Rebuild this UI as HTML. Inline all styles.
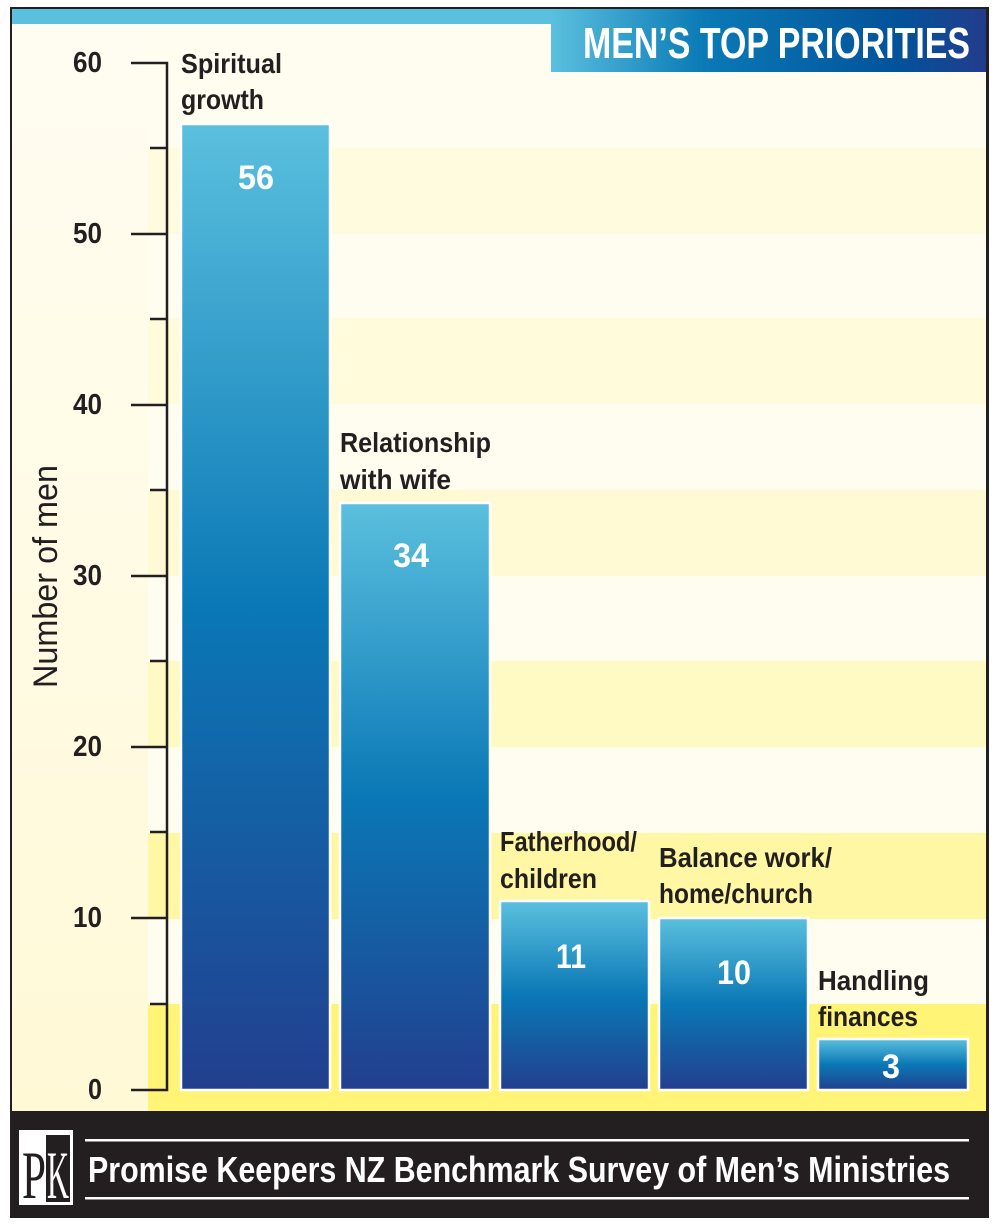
<!DOCTYPE html>
<html><head><style>
body{margin:0;background:#fff;}
svg text{font-family:"Liberation Sans",sans-serif;font-weight:bold;}
</style></head><body>
<svg width="1000" height="1223" viewBox="0 0 1000 1223" xmlns="http://www.w3.org/2000/svg">
<defs>
<linearGradient id="bar" x1="0" y1="0" x2="0" y2="1">
<stop offset="0" stop-color="#5bc0de"/><stop offset="0.5" stop-color="#0a78b6"/><stop offset="1" stop-color="#223f8e"/>
</linearGradient>
<linearGradient id="tt" x1="0" y1="0" x2="1" y2="0">
<stop offset="0" stop-color="#5bc0de"/><stop offset="0.35" stop-color="#0a7ab6"/><stop offset="0.8" stop-color="#02529a"/><stop offset="1" stop-color="#233c8c"/>
</linearGradient>
<linearGradient id="left" x1="0" y1="0" x2="0" y2="1">
<stop offset="0" stop-color="#fffdf2"/><stop offset="1" stop-color="#fff9d6"/>
</linearGradient>
</defs>
<rect x="10" y="7" width="979" height="1211" fill="#231f20"/>
<rect x="12" y="9" width="974" height="1102" fill="#fffdf0"/>
<rect x="12" y="24" width="136" height="1087" fill="url(#left)"/>
<rect x="148" y="1004" width="838" height="107" fill="#fff475"/>
<rect x="148" y="833" width="838" height="86" fill="#fff7a3"/>
<rect x="148" y="661" width="838" height="86" fill="#fff9c4"/>
<rect x="148" y="490" width="838" height="86" fill="#fffad4"/>
<rect x="148" y="318" width="838" height="86" fill="#fffbdb"/>
<rect x="148" y="148" width="838" height="86" fill="#fffbdf"/>
<rect x="12" y="9" width="540" height="15" fill="#5bc0de"/>
<rect x="551" y="9" width="435" height="63" fill="url(#tt)"/>
<text x="583" y="58" font-size="44" fill="#fff" textLength="387" lengthAdjust="spacingAndGlyphs">MEN’S TOP PRIORITIES</text>
<g stroke="#231f20" stroke-width="2.5" fill="none">
<path d="M131 63H167V1090H131"/>
<path d="M131 234H167M131 405H167M131 576H167M131 747H167M131 918H167"/>
<path d="M150 148H167M150 319H167M150 490H167M150 661H167M150 832H167M150 1004H167"/>
</g>
<g font-size="29" fill="#231f20">
<text x="73" y="72" textLength="29" lengthAdjust="spacingAndGlyphs">60</text>
<text x="73" y="243" textLength="29" lengthAdjust="spacingAndGlyphs">50</text>
<text x="73" y="414" textLength="29" lengthAdjust="spacingAndGlyphs">40</text>
<text x="73" y="585" textLength="29" lengthAdjust="spacingAndGlyphs">30</text>
<text x="73" y="756" textLength="29" lengthAdjust="spacingAndGlyphs">20</text>
<text x="73" y="927" textLength="29" lengthAdjust="spacingAndGlyphs">10</text>
<text x="88" y="1099" textLength="14" lengthAdjust="spacingAndGlyphs">0</text>
</g>
<text transform="translate(57,577) rotate(-90)" x="-111" font-size="34" style="font-weight:normal" fill="#231f20" textLength="223" lengthAdjust="spacingAndGlyphs">Number of men</text>
<g stroke="#fff" stroke-width="2.5" fill="url(#bar)">
<rect x="181" y="124" width="149" height="966"/>
<rect x="340" y="503" width="150" height="587"/>
<rect x="500" y="901" width="149" height="189"/>
<rect x="659" y="918" width="149" height="172"/>
<rect x="818" y="1039" width="150" height="51"/>
</g>
<g font-size="34" fill="#fff">
<text x="238" y="189" textLength="36" lengthAdjust="spacingAndGlyphs">56</text>
<text x="393" y="567" textLength="36" lengthAdjust="spacingAndGlyphs">34</text>
<text x="556" y="968" textLength="30" lengthAdjust="spacingAndGlyphs">11</text>
<text x="717" y="984" textLength="34" lengthAdjust="spacingAndGlyphs">10</text>
<text x="882" y="1078" textLength="18" lengthAdjust="spacingAndGlyphs">3</text>
</g>
<g font-size="28" fill="#231f20" lengthAdjust="spacingAndGlyphs">
<text x="181" y="73" textLength="101" lengthAdjust="spacingAndGlyphs">Spiritual</text>
<text x="181" y="109" textLength="83" lengthAdjust="spacingAndGlyphs">growth</text>
<text x="340" y="452" textLength="151" lengthAdjust="spacingAndGlyphs">Relationship</text>
<text x="340" y="489" textLength="111" lengthAdjust="spacingAndGlyphs">with wife</text>
<text x="500" y="851" textLength="137" lengthAdjust="spacingAndGlyphs">Fatherhood/</text>
<text x="500" y="888" textLength="97" lengthAdjust="spacingAndGlyphs">children</text>
<text x="659" y="867" textLength="173" lengthAdjust="spacingAndGlyphs">Balance work/</text>
<text x="659" y="903" textLength="154" lengthAdjust="spacingAndGlyphs">home/church</text>
<text x="818" y="990" textLength="111" lengthAdjust="spacingAndGlyphs">Handling</text>
<text x="818" y="1026" textLength="100" lengthAdjust="spacingAndGlyphs">finances</text>
</g>
<rect x="85" y="1139" width="884" height="2.5" fill="#fff"/>
<rect x="85" y="1197" width="884" height="2.5" fill="#fff"/>
<text x="88" y="1182" font-size="36" fill="#fff" textLength="862" lengthAdjust="spacingAndGlyphs">Promise Keepers NZ Benchmark Survey of Men’s Ministries</text>
<rect x="19" y="1130" width="54" height="75" fill="#fff"/>
<rect x="46" y="1135" width="24" height="67" fill="#231f20"/>
<text x="22" y="1198" font-size="68" style="font-weight:normal;font-family:'Liberation Serif',serif" fill="#231f20" textLength="24" lengthAdjust="spacingAndGlyphs">P</text>
<text x="47" y="1198" font-size="68" style="font-weight:normal;font-family:'Liberation Serif',serif" fill="#fff" textLength="22" lengthAdjust="spacingAndGlyphs">K</text>
</svg>
</body></html>
